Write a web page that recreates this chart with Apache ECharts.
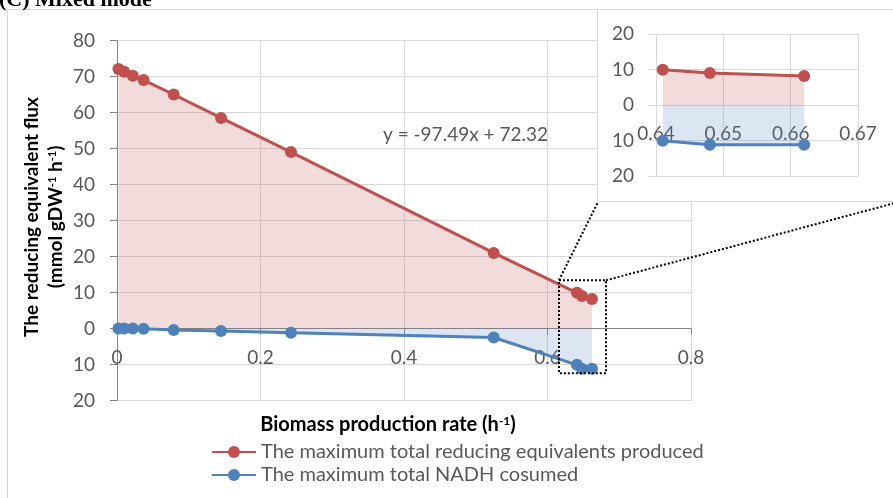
<!DOCTYPE html>
<html><head><meta charset="utf-8">
<script src="https://cdn.jsdelivr.net/npm/echarts@6/dist/echarts.min.js"></script>
<style>html,body{margin:0;padding:0;background:#fff}#c{width:893px;height:498px}</style>
</head><body><div id="c"></div>
<script>
// ---- data ----
const biomassRate = [0.002, 0.010, 0.022, 0.037, 0.079, 0.145, 0.2425, 0.525, 0.641, 0.648, 0.662];
const reducingProduced = [72.1, 71.3, 70.2, 69.0, 65.0, 58.5, 49.0, 21.0, 9.9, 9.0, 8.2];
const nadhConsumed = [0.0, 0.0, 0.0, -0.1, -0.4, -0.7, -1.2, -2.5, -10.1, -11.2, -11.2];
const insetFromIndex = 8;
const seriesNames = ['The maximum total reducing equivalents produced', 'The maximum total NADH cosumed'];
const mainXRange = [0, 0.8, 0.2];
const mainYRange = [-20, 80, 10];
const insetXRange = [0.64, 0.67, 0.01];
const insetYRange = [-20, 20, 10];
const trendText = 'y = -97.49x + 72.32';
const zoomBoxX = [0.616, 0.6815];
const zoomBoxY = [-12.4, 13.4];
const titleText = '(C) Mixed mode';
const xAxisTitle = ['Biomass production rate (h', '-1', ')'];
const yAxisTitle1 = 'The reducing equivalent flux';
const yAxisTitle2 = ['(mmol gDW', '-1', ' h', '-1', ')'];

// ---- style ----
const FONT = 'Lato';
const TXT = '#595959';
const RED = '#c0504d', BLUE = '#4f81bd';
const GRIDC = '#d9d9d9', AXISC = '#868686';
const LABEL_SIZE = 19;

const pairs = (xs, ys) => xs.map((x, i) => [x, ys[i]]);
const fmt = v => String(Math.round(Math.abs(v) * 1000) / 1000);

const mainGrid = {left: 117, right: 202, top: 40.5, bottom: 97.5};
const insetGrid = {left: 656, right: 35, top: 34, bottom: 322};
const H = 498;
// distance from the grid bottom to the zero line, so the x axis (with its labels) sits on y = 0
const zeroOffset = (g, r) => -((H - g.top - g.bottom) * (0 - r[0]) / (r[1] - r[0]));

const chart = echarts.init(document.getElementById('c'), null, {renderer: 'canvas'});

function axisX(range, gridIndex, grid, opts) {
  return Object.assign({
    type: 'value', gridIndex, min: range[0], max: range[1], interval: range[2],
    position: 'bottom', offset: zeroOffset(grid, gridIndex === 0 ? mainYRange : insetYRange),
    axisLine: {onZero: false, lineStyle: {color: AXISC, width: 1}},
    axisTick: {show: true, length: 6, lineStyle: {color: AXISC}},
    axisLabel: {color: TXT, fontSize: LABEL_SIZE, fontFamily: FONT, margin: 20, formatter: fmt},
    splitLine: {show: true, lineStyle: {color: GRIDC, width: 1}}
  }, opts || {});
}
function axisY(range, gridIndex, opts) {
  return Object.assign({
    type: 'value', gridIndex, min: range[0], max: range[1], interval: range[2],
    axisLine: {show: true, onZero: false, lineStyle: {color: AXISC, width: 1}},
    axisTick: {show: true, length: 7, lineStyle: {color: AXISC}},
    axisLabel: {color: TXT, fontSize: LABEL_SIZE, fontFamily: FONT, margin: 22, formatter: fmt},
    splitLine: {show: true, lineStyle: {color: GRIDC, width: 1}}
  }, opts || {});
}

function lineSeries(name, color, fill, xs, ys, axisIdx, z) {
  return {
    type: 'line', name, xAxisIndex: axisIdx, yAxisIndex: axisIdx, z: z,
    data: pairs(xs, ys), symbol: 'circle', symbolSize: 12, showSymbol: true,
    lineStyle: {color, width: 3}, itemStyle: {color},
    areaStyle: {color: fill, opacity: 1}, silent: true
  };
}

chart.setOption({
  animation: false,
  backgroundColor: '#fff',
  grid: [mainGrid, insetGrid],
  xAxis: [
    axisX(mainXRange, 0, mainGrid),
    axisX(insetXRange, 1, insetGrid, {z: 4,
      axisLine: {onZero: false, lineStyle: {color: GRIDC}},
      axisTick: {show: false},
      axisLabel: {color: TXT, fontSize: LABEL_SIZE, fontFamily: FONT, margin: 19, formatter: fmt}})
  ],
  yAxis: [
    axisY(mainYRange, 0),
    axisY(insetYRange, 1, {z: 4,
      axisLine: {show: true, lineStyle: {color: GRIDC}},
      axisTick: {show: true, length: 8, lineStyle: {color: GRIDC}}})
  ],
  legend: {
    data: seriesNames, orient: 'vertical', left: 211, top: 442,
    itemWidth: 44, itemHeight: 15, itemGap: 3, padding: 0,
    textStyle: {color: TXT, fontSize: 20, fontFamily: FONT}
  },
  series: [
    lineSeries(seriesNames[0], RED, 'rgba(192,80,77,0.2)', biomassRate, reducingProduced, 0, 2),
    lineSeries(seriesNames[1], BLUE, 'rgba(79,129,189,0.2)', biomassRate, nadhConsumed, 0, 2),
    lineSeries('inset-red', RED, 'rgba(192,80,77,0.2)', biomassRate.slice(insetFromIndex), reducingProduced.slice(insetFromIndex), 1, 5),
    lineSeries('inset-blue', BLUE, 'rgba(79,129,189,0.2)', biomassRate.slice(insetFromIndex), nadhConsumed.slice(insetFromIndex), 1, 5)
  ]
});

// ---- annotations ----
const p0 = chart.convertToPixel({gridIndex: 0}, [zoomBoxX[0], zoomBoxY[1]]);
const p1 = chart.convertToPixel({gridIndex: 0}, [zoomBoxX[1], zoomBoxY[0]]);
const dotted = {stroke: '#000', lineWidth: 2, lineDash: [2, 2], fill: null};
const mkRich = size => ({
  b: {fontSize: size, fontWeight: 'bold', fontFamily: FONT, fill: '#000'},
  s: {fontSize: Math.round(size * 0.6), fontWeight: 'bold', fontFamily: FONT, fill: '#000', verticalAlign: 'top', padding: [0, 0, 8, 0]}
});
const richText = parts => parts.map((t, i) => (i % 2 ? '{s|' + t + '}' : '{b|' + t + '}')).join('');

chart.setOption({
  graphic: [
    {type: 'rect', z: 0, silent: true, shape: {x: 7.5, y: 9.5, width: 1000, height: 600},
      style: {fill: null, stroke: GRIDC, lineWidth: 1}},
    {type: 'text', z: 1, x: -1, y: 11, silent: true,
      style: {text: titleText, font: 'bold 22px "Liberation Serif"', fill: '#000', align: 'left', verticalAlign: 'bottom'}},
    {type: 'rect', z: 3, silent: true, shape: {x: 597.5, y: 9.5, width: 400, height: 192},
      style: {fill: '#fff', stroke: GRIDC, lineWidth: 1}},
    {type: 'rect', z: 6, silent: true,
      shape: {x: p0[0], y: p0[1], width: p1[0] - p0[0], height: p1[1] - p0[1]}, style: dotted},
    {type: 'line', z: 6, silent: true, shape: {x1: p0[0], y1: p0[1], x2: 598, y2: 202}, style: dotted},
    {type: 'line', z: 6, silent: true, shape: {x1: p1[0], y1: p0[1], x2: 895, y2: 203}, style: dotted},
    {type: 'text', z: 6, x: 383, y: 135, silent: true,
      style: {text: trendText, font: '19px ' + FONT, fill: TXT, align: 'left', verticalAlign: 'middle'}},
    {type: 'text', z: 6, x: 388, y: 425, silent: true,
      style: {text: richText(xAxisTitle), rich: mkRich(20), align: 'center', verticalAlign: 'middle'}},
    {type: 'text', z: 6, x: 32, y: 217, rotation: Math.PI / 2, silent: true,
      style: {text: yAxisTitle1, font: 'bold 19px ' + FONT, fill: '#000', align: 'center', verticalAlign: 'middle'}},
    {type: 'text', z: 6, x: 56, y: 217, rotation: Math.PI / 2, silent: true,
      style: {text: richText(yAxisTitle2), rich: mkRich(19), align: 'center', verticalAlign: 'middle'}}
  ]
});
</script>
</body></html>
